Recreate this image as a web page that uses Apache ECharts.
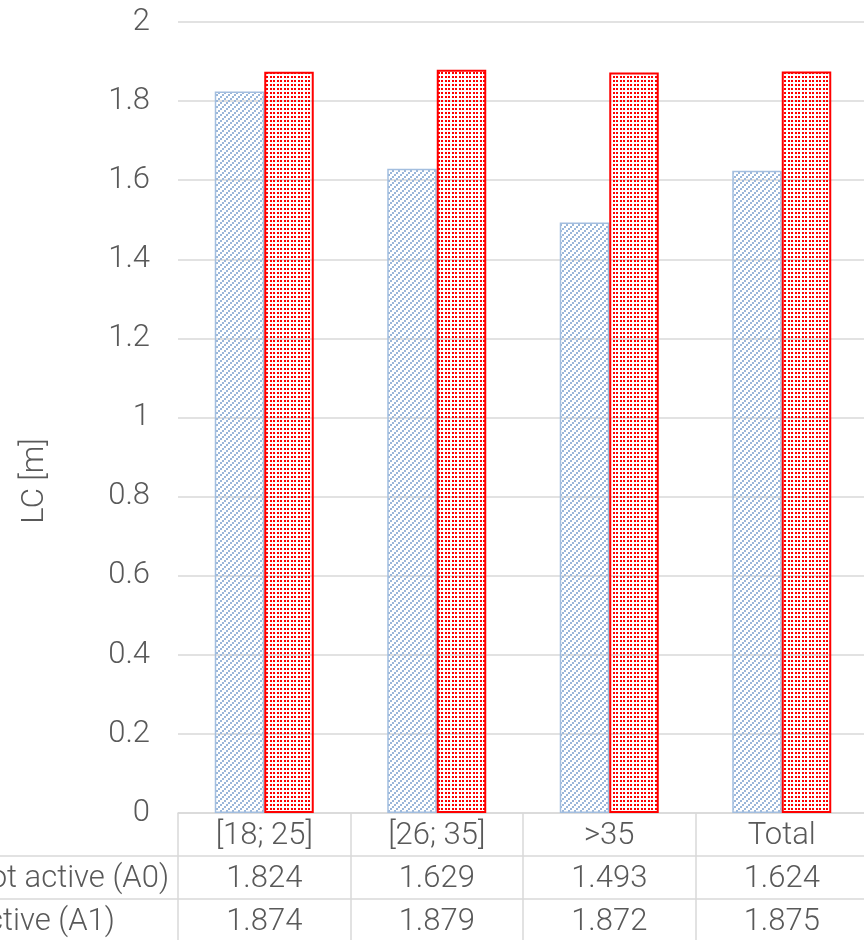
<!DOCTYPE html>
<html>
<head>
<meta charset="utf-8">
<script src="https://cdn.jsdelivr.net/npm/echarts@6/dist/echarts.min.js"></script>
<style>
  html, body { margin: 0; padding: 0; background: #ffffff; }
  #chart { width: 864px; height: 940px; }
</style>
</head>
<body>
<div id="chart"></div>
<script>
// Age groups and mean LC values for the two activity groups
const categories = ['[18; 25]', '[26; 35]', '>35', 'Total'];
const seriesNames = ['Not active (A0)', 'Active (A1)'];
const notActive = [1.824, 1.629, 1.493, 1.624];
const active = [1.874, 1.879, 1.872, 1.875];
const axisTitle = 'LC [m]';

const FONT = 'Roboto, "Liberation Sans", Arial, sans-serif';
const FONT_SIZE = 31;
const FONT_WEIGHT = 300;
const TEXT = '#595959';
const LINE = '#d9d9d9';

// Layout of plot area and data table
const GRID_LEFT = 178, GRID_TOP = 22, TABLE_H = 127, ROW_H = 43;
const W = 864, H = 940;
const axisY = H - TABLE_H;
const ROW_LABEL_RIGHT = 169;
const TEXT_NUDGE = 2;

// Fill patterns: light-blue upward hatch and red dot grid
function hatchPattern() {
  const c = document.createElement('canvas');
  c.width = 6; c.height = 6;
  const g = c.getContext('2d');
  g.fillStyle = '#9ab7da';
  g.fillRect(0, 4, 2, 2);
  g.fillRect(2, 2, 2, 2);
  g.fillRect(4, 0, 2, 2);
  return c;
}
function dotPattern() {
  const c = document.createElement('canvas');
  c.width = 7; c.height = 4;
  const g = c.getContext('2d');
  g.fillStyle = '#ff0000';
  g.fillRect(0, 0, 2, 2);
  g.fillRect(4, 0, 2, 2);
  return c;
}

// Row labels of the data table share one left edge
function textWidth(str) {
  const g = document.createElement('canvas').getContext('2d');
  g.font = FONT_WEIGHT + ' ' + FONT_SIZE + 'px ' + FONT;
  return g.measureText(str).width;
}

const chart = echarts.init(document.getElementById('chart'), null, { renderer: 'canvas' });

function build() {
  const rowLabelX = ROW_LABEL_RIGHT - textWidth(seriesNames[0]);
  const textStyle = {
    fontFamily: FONT,
    fontWeight: FONT_WEIGHT,
    fontSize: FONT_SIZE,
    fill: TEXT
  };
  return {
    backgroundColor: '#ffffff',
    animation: false,
    grid: {
      left: GRID_LEFT, right: -4, top: GRID_TOP, bottom: TABLE_H,
      containLabel: false,
      outerBoundsMode: 'none'
    },
    xAxis: {
      type: 'category',
      data: categories,
      axisLine: { show: true, lineStyle: { color: LINE, width: 1.5 } },
      axisTick: { show: true, length: TABLE_H, lineStyle: { color: LINE, width: 1.5 } },
      axisLabel: {
        margin: TEXT_NUDGE,
        fontFamily: FONT,
        fontWeight: FONT_WEIGHT,
        fontSize: FONT_SIZE,
        color: TEXT,
        lineHeight: ROW_H,
        formatter: function (v, i) {
          return v + '\n' + notActive[i].toFixed(3) + '\n' + active[i].toFixed(3);
        }
      },
      splitLine: { show: false }
    },
    yAxis: {
      type: 'value',
      min: 0,
      max: 2,
      interval: 0.2,
      axisLine: { show: false },
      axisTick: { show: false },
      axisLabel: {
        margin: 28,
        fontFamily: FONT,
        fontWeight: FONT_WEIGHT,
        fontSize: FONT_SIZE,
        color: TEXT,
        formatter: function (v) { return String(Math.round(v * 10) / 10); }
      },
      splitLine: { lineStyle: { color: LINE, width: 1.5 } }
    },
    series: [
      {
        name: seriesNames[0],
        type: 'bar',
        data: notActive,
        barWidth: 49.5,
        barGap: '0%',
        itemStyle: {
          color: { image: hatchPattern(), repeat: 'repeat' },
          borderColor: '#a3bedf',
          borderWidth: 1.5
        }
      },
      {
        name: seriesNames[1],
        type: 'bar',
        data: active,
        barWidth: 49.5,
        itemStyle: {
          color: { image: dotPattern(), repeat: 'repeat' },
          borderColor: '#ff0000',
          borderWidth: 2
        }
      }
    ],
    graphic: [
      {
        type: 'text',
        x: 35,
        y: (GRID_TOP + H) / 2,
        rotation: Math.PI / 2,
        style: Object.assign({ text: axisTitle, align: 'center', verticalAlign: 'middle' }, textStyle)
      },
      {
        type: 'line',
        shape: { x1: 0, y1: axisY + ROW_H, x2: W, y2: axisY + ROW_H },
        style: { stroke: LINE, lineWidth: 1.5 }
      },
      {
        type: 'line',
        shape: { x1: 0, y1: axisY + 2 * ROW_H, x2: W, y2: axisY + 2 * ROW_H },
        style: { stroke: LINE, lineWidth: 1.5 }
      },
      {
        type: 'text',
        x: rowLabelX,
        y: axisY + ROW_H * 1.5 + TEXT_NUDGE,
        style: Object.assign({ text: seriesNames[0], align: 'left', verticalAlign: 'middle' }, textStyle)
      },
      {
        type: 'text',
        x: rowLabelX,
        y: axisY + ROW_H * 2.5 + TEXT_NUDGE,
        style: Object.assign({ text: seriesNames[1], align: 'left', verticalAlign: 'middle' }, textStyle)
      }
    ]
  };
}

chart.setOption(build());
</script>
</body>
</html>
